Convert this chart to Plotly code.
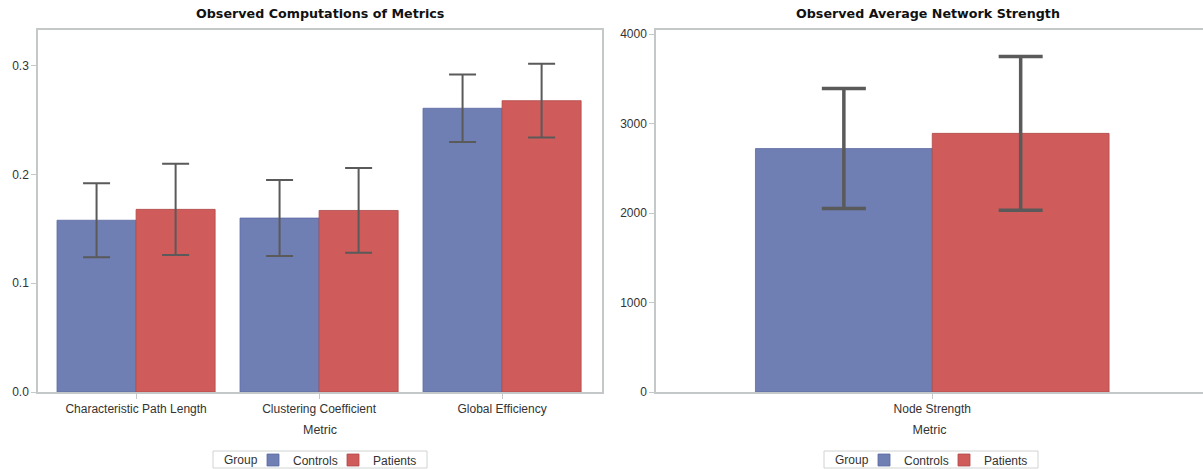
import plotly.graph_objects as go

# Group means and standard deviations per network metric
metrics = ["Characteristic Path Length", "Clustering Coefficient", "Global Efficiency"]
controls_mean = [0.158, 0.160, 0.261]
controls_sd = [0.034, 0.035, 0.031]
patients_mean = [0.168, 0.167, 0.268]
patients_sd = [0.042, 0.039, 0.034]

strength_metric = ["Node Strength"]
strength_controls_mean = [2720]
strength_controls_sd = [670]
strength_patients_mean = [2890]
strength_patients_sd = [860]

groups = ["Controls", "Patients"]
BLUE = "#6F7EB3"
RED = "#D05B5B"
BLUE_EDGE = "#5A6AA3"
RED_EDGE = "#B04A4A"
ERR = "#5A5A5A"
AXIS = "#C4C8C8"
TEXT = "#333333"
FONT = "Liberation Sans, Arial, sans-serif"
TITLE_FONT = "DejaVu Sans, sans-serif"

W, H = 1203, 469


def px_x(v):
    return v / W


def px_y(v):
    return 1 - v / H


fig = go.Figure()

left_w = 0.432
right_w = 0.32


def add_pair(xs, c_mean, c_sd, p_mean, p_sd, w, xa, ya, legends, err_thick, err_w):
    fig.add_trace(go.Bar(
        x=xs, y=c_mean, name=groups[0], xaxis=xa, yaxis=ya,
        width=w, offset=-w,
        marker=dict(color=BLUE, line=dict(color=BLUE_EDGE, width=0.8)),
        error_y=dict(type="data", array=c_sd, visible=True, color=ERR,
                     thickness=err_thick, width=err_w),
        legend=legends[0],
    ))
    fig.add_trace(go.Bar(
        x=xs, y=p_mean, name=groups[1], xaxis=xa, yaxis=ya,
        width=w, offset=0,
        marker=dict(color=RED, line=dict(color=RED_EDGE, width=0.8)),
        error_y=dict(type="data", array=p_sd, visible=True, color=ERR,
                     thickness=err_thick, width=err_w),
        legend=legends[1],
    ))


add_pair(metrics, controls_mean, controls_sd, patients_mean, patients_sd,
         left_w, "x", "y", ("legend2", "legend3"), 2, 13.5)
add_pair(strength_metric, strength_controls_mean, strength_controls_sd,
         strength_patients_mean, strength_patients_sd,
         right_w, "x2", "y2", ("legend4", "legend5"), 3.5, 22)

axis_common = dict(
    showline=True, linecolor=AXIS, linewidth=1.5,
    ticks="outside", tickcolor=AXIS, ticklen=5, tickwidth=1,
    showgrid=False, zeroline=False,
    tickfont=dict(family=FONT, size=12, color=TEXT),
)
xtitle = dict(text="Metric", font=dict(family=FONT, size=12.5, color=TEXT), standoff=10)

y_dom = [px_y(392), px_y(30)]

legend_common = dict(
    orientation="h", xanchor="left", yanchor="middle", y=px_y(460),
    borderwidth=0, bgcolor="rgba(0,0,0,0)",
    font=dict(family=FONT, size=12, color=TEXT),
)

# Legend frames with the "Group" caption
boxes = [(213, 427), (824, 1038)]
shapes = []
annotations = []
for x0, x1 in boxes:
    shapes.append(dict(type="rect", xref="paper", yref="paper",
                       x0=px_x(x0), x1=px_x(x1), y0=px_y(468), y1=px_y(451),
                       line=dict(color="#D0D4D4", width=1), fillcolor="white", layer="below"))
    annotations.append(dict(text="Group", x=px_x(x0 + 9), y=px_y(460), xref="paper", yref="paper",
                            showarrow=False, xanchor="left", yanchor="middle",
                            font=dict(family=FONT, size=12, color=TEXT)))

annotations += [
    dict(text="<b>Observed Computations of Metrics</b>", x=px_x(320), y=px_y(13),
         xref="paper", yref="paper", showarrow=False, xanchor="center", yanchor="middle",
         font=dict(family=TITLE_FONT, size=12.7, color="#111111")),
    dict(text="<b>Observed Average Network Strength</b>", x=px_x(928), y=px_y(13),
         xref="paper", yref="paper", showarrow=False, xanchor="center", yanchor="middle",
         font=dict(family=TITLE_FONT, size=12.7, color="#111111")),
]

fig.update_layout(
    width=W, height=H,
    margin=dict(l=0, r=0, t=0, b=0, autoexpand=False),
    paper_bgcolor="white", plot_bgcolor="white",
    barmode="overlay",
    font=dict(family=FONT, color=TEXT),
    xaxis=dict(domain=[px_x(38), px_x(602)], range=[-0.536, 2.546],
               mirror=True, anchor="y", title=xtitle, **axis_common),
    yaxis=dict(domain=y_dom, range=[0, 0.333], mirror=True, anchor="x",
               tickvals=[0.0, 0.1, 0.2, 0.3], tickformat=".1f", **axis_common),
    xaxis2=dict(domain=[px_x(656), 1.0], range=[-0.5, 0.49],
                mirror=True, anchor="y2", title=xtitle, **axis_common),
    yaxis2=dict(domain=y_dom, range=[0, 4045], anchor="x2",
                tickvals=[0, 1000, 2000, 3000, 4000], **axis_common),
    legend2=dict(x=px_x(253), **legend_common),
    legend3=dict(x=px_x(333), **legend_common),
    legend4=dict(x=px_x(864), **legend_common),
    legend5=dict(x=px_x(944), **legend_common),
    shapes=shapes,
    annotations=annotations,
)

fig.write_html("out.html")
